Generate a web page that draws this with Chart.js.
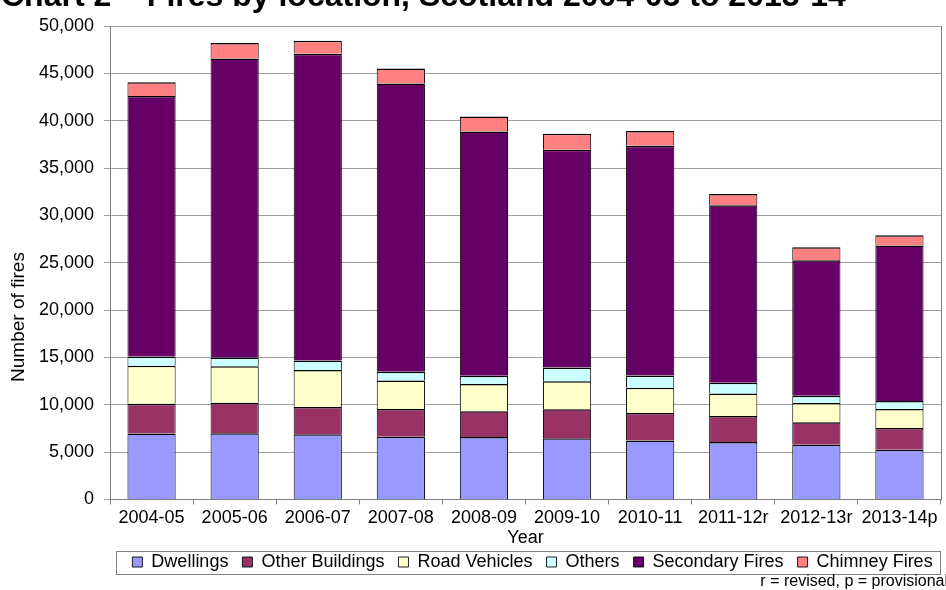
<!DOCTYPE html>
<html>
<head>
<meta charset="utf-8">
<script src="https://cdn.jsdelivr.net/npm/chart.js"></script>
<style>
html, body { margin: 0; padding: 0; background: #fff; overflow: hidden; }
#wrap { position: relative; width: 946px; height: 590px; overflow: hidden; }
#myChart { position: absolute; left: 0; top: 0; }
#title { position: absolute; left: 1px; top: -21px; font: bold 32px "Liberation Sans", Arial, sans-serif; line-height: 32px; white-space: nowrap; color: #000; }
</style>
</head>
<body>
<div id="wrap">
  <canvas id="myChart" width="946" height="590"></canvas>
  <div id="title">Chart 2 – Fires by location, Scotland 2004-05 to 2013-14</div>
</div>
<script>
// values
const years = ['2004-05', '2005-06', '2006-07', '2007-08', '2008-09', '2009-10', '2010-11', '2011-12r', '2012-13r', '2013-14p'];
const dwellings = [6950, 6980, 6880, 6630, 6580, 6460, 6230, 6070, 5760, 5250];
const otherBuildings = [3160, 3230, 2880, 2920, 2720, 3050, 2900, 2740, 2380, 2300];
const roadVehicles = [4000, 3860, 3900, 3010, 2880, 2980, 2660, 2380, 2040, 2000];
const others = [980, 910, 1010, 920, 880, 1440, 1300, 1130, 770, 840];
const secondaryFires = [27520, 31580, 32390, 30460, 25790, 22990, 24250, 18740, 14310, 16430];
const chimneyFires = [1440, 1650, 1370, 1580, 1580, 1690, 1580, 1190, 1370, 1090];

const yMax = 50000;
const yStep = 5000;

const font = "'Liberation Sans', Arial, sans-serif";

function serie(label, data, color) {
    return {
        label: label,
        data: data,
        backgroundColor: color,
        borderColor: '#000',
        borderWidth: { top: 1.5, left: 1, right: 1, bottom: 0 },
        barPercentage: 0.58,
        categoryPercentage: 1.0
    };
}

// y title, legend frame, right border and footnote
const extras = {
    id: 'extras',
    afterLayout(chart) {
        // nudge legend a bit right, like the original
        chart.legend.left += 7;
        chart.legend.right += 7;
    },
    afterDraw(chart) {
        const ctx = chart.ctx;
        const area = chart.chartArea;
        ctx.save();

        ctx.strokeStyle = '#808080';
        ctx.lineWidth = 1;
        ctx.beginPath();
        ctx.moveTo(area.right + 0.5, area.top);
        ctx.lineTo(area.right + 0.5, area.bottom);
        ctx.stroke();

        ctx.fillStyle = '#000';
        ctx.font = '19px ' + font;
        ctx.textAlign = 'center';
        ctx.textBaseline = 'middle';
        ctx.translate(19, 317);
        ctx.rotate(-Math.PI / 2);
        ctx.fillText('Number of fires', 0, 0);
        ctx.setTransform(1, 0, 0, 1, 0, 0);

        const boxes = chart.legend.legendHitBoxes;
        if (boxes && boxes.length) {
            const first = boxes[0];
            const last = boxes[boxes.length - 1];
            const x1 = Math.round(first.left - 16) + 0.5;
            const x2 = Math.round(last.left + last.width + 7) + 0.5;
            const y1 = Math.round(first.top - 2) + 0.5;
            const y2 = Math.round(first.top + first.height + 3) + 0.5;
            ctx.strokeStyle = '#808080';
            ctx.strokeRect(x1, y1, x2 - x1, y2 - y1);
        }

        ctx.font = '16px ' + font;
        ctx.textAlign = 'right';
        ctx.fillText('r = revised, p = provisional', 948, 582);
        ctx.restore();
    }
};

const ctx = document.getElementById('myChart');

new Chart(ctx, {
    type: 'bar',
    data: {
        labels: years,
        datasets: [
            serie('Dwellings', dwellings, '#9999FF'),
            serie('Other Buildings', otherBuildings, '#993366'),
            serie('Road Vehicles', roadVehicles, '#FFFFCC'),
            serie('Others', others, '#CCFFFF'),
            serie('Secondary Fires', secondaryFires, '#660066'),
            serie('Chimney Fires', chimneyFires, '#FF8080')
        ]
    },
    plugins: [extras],
    options: {
        responsive: false,
        animation: false,
        layout: { padding: { top: 26, right: 5, bottom: 9, left: 0 } },
        plugins: {
            legend: {
                position: 'bottom',
                fullSize: false,
                labels: {
                    font: { family: font, size: 18 },
                    color: '#000',
                    boxWidth: 10,
                    boxHeight: 10,
                    padding: 14
                }
            },
            tooltip: { enabled: false }
        },
        scales: {
            x: {
                stacked: true,
                grid: { display: true, drawOnChartArea: false, color: '#808080', tickLength: 5 },
                border: { color: '#808080' },
                ticks: { font: { family: font, size: 18 }, color: '#000', padding: 3, maxRotation: 0, autoSkip: false },
                title: {
                    display: true,
                    text: 'Year',
                    font: { family: font, size: 18, lineHeight: 1 },
                    color: '#000',
                    padding: { top: -3, bottom: -8 }
                }
            },
            y: {
                stacked: true,
                min: 0,
                max: yMax,
                grid: { color: '#a0a0a0', tickLength: 6 },
                border: { color: '#808080' },
                ticks: {
                    stepSize: yStep,
                    font: { family: font, size: 18 },
                    color: '#000',
                    padding: 10,
                    callback: value => value.toLocaleString('en-US')
                },
                afterFit(scale) { scale.width = 110; }
            }
        }
    }
});
</script>
</body>
</html>
